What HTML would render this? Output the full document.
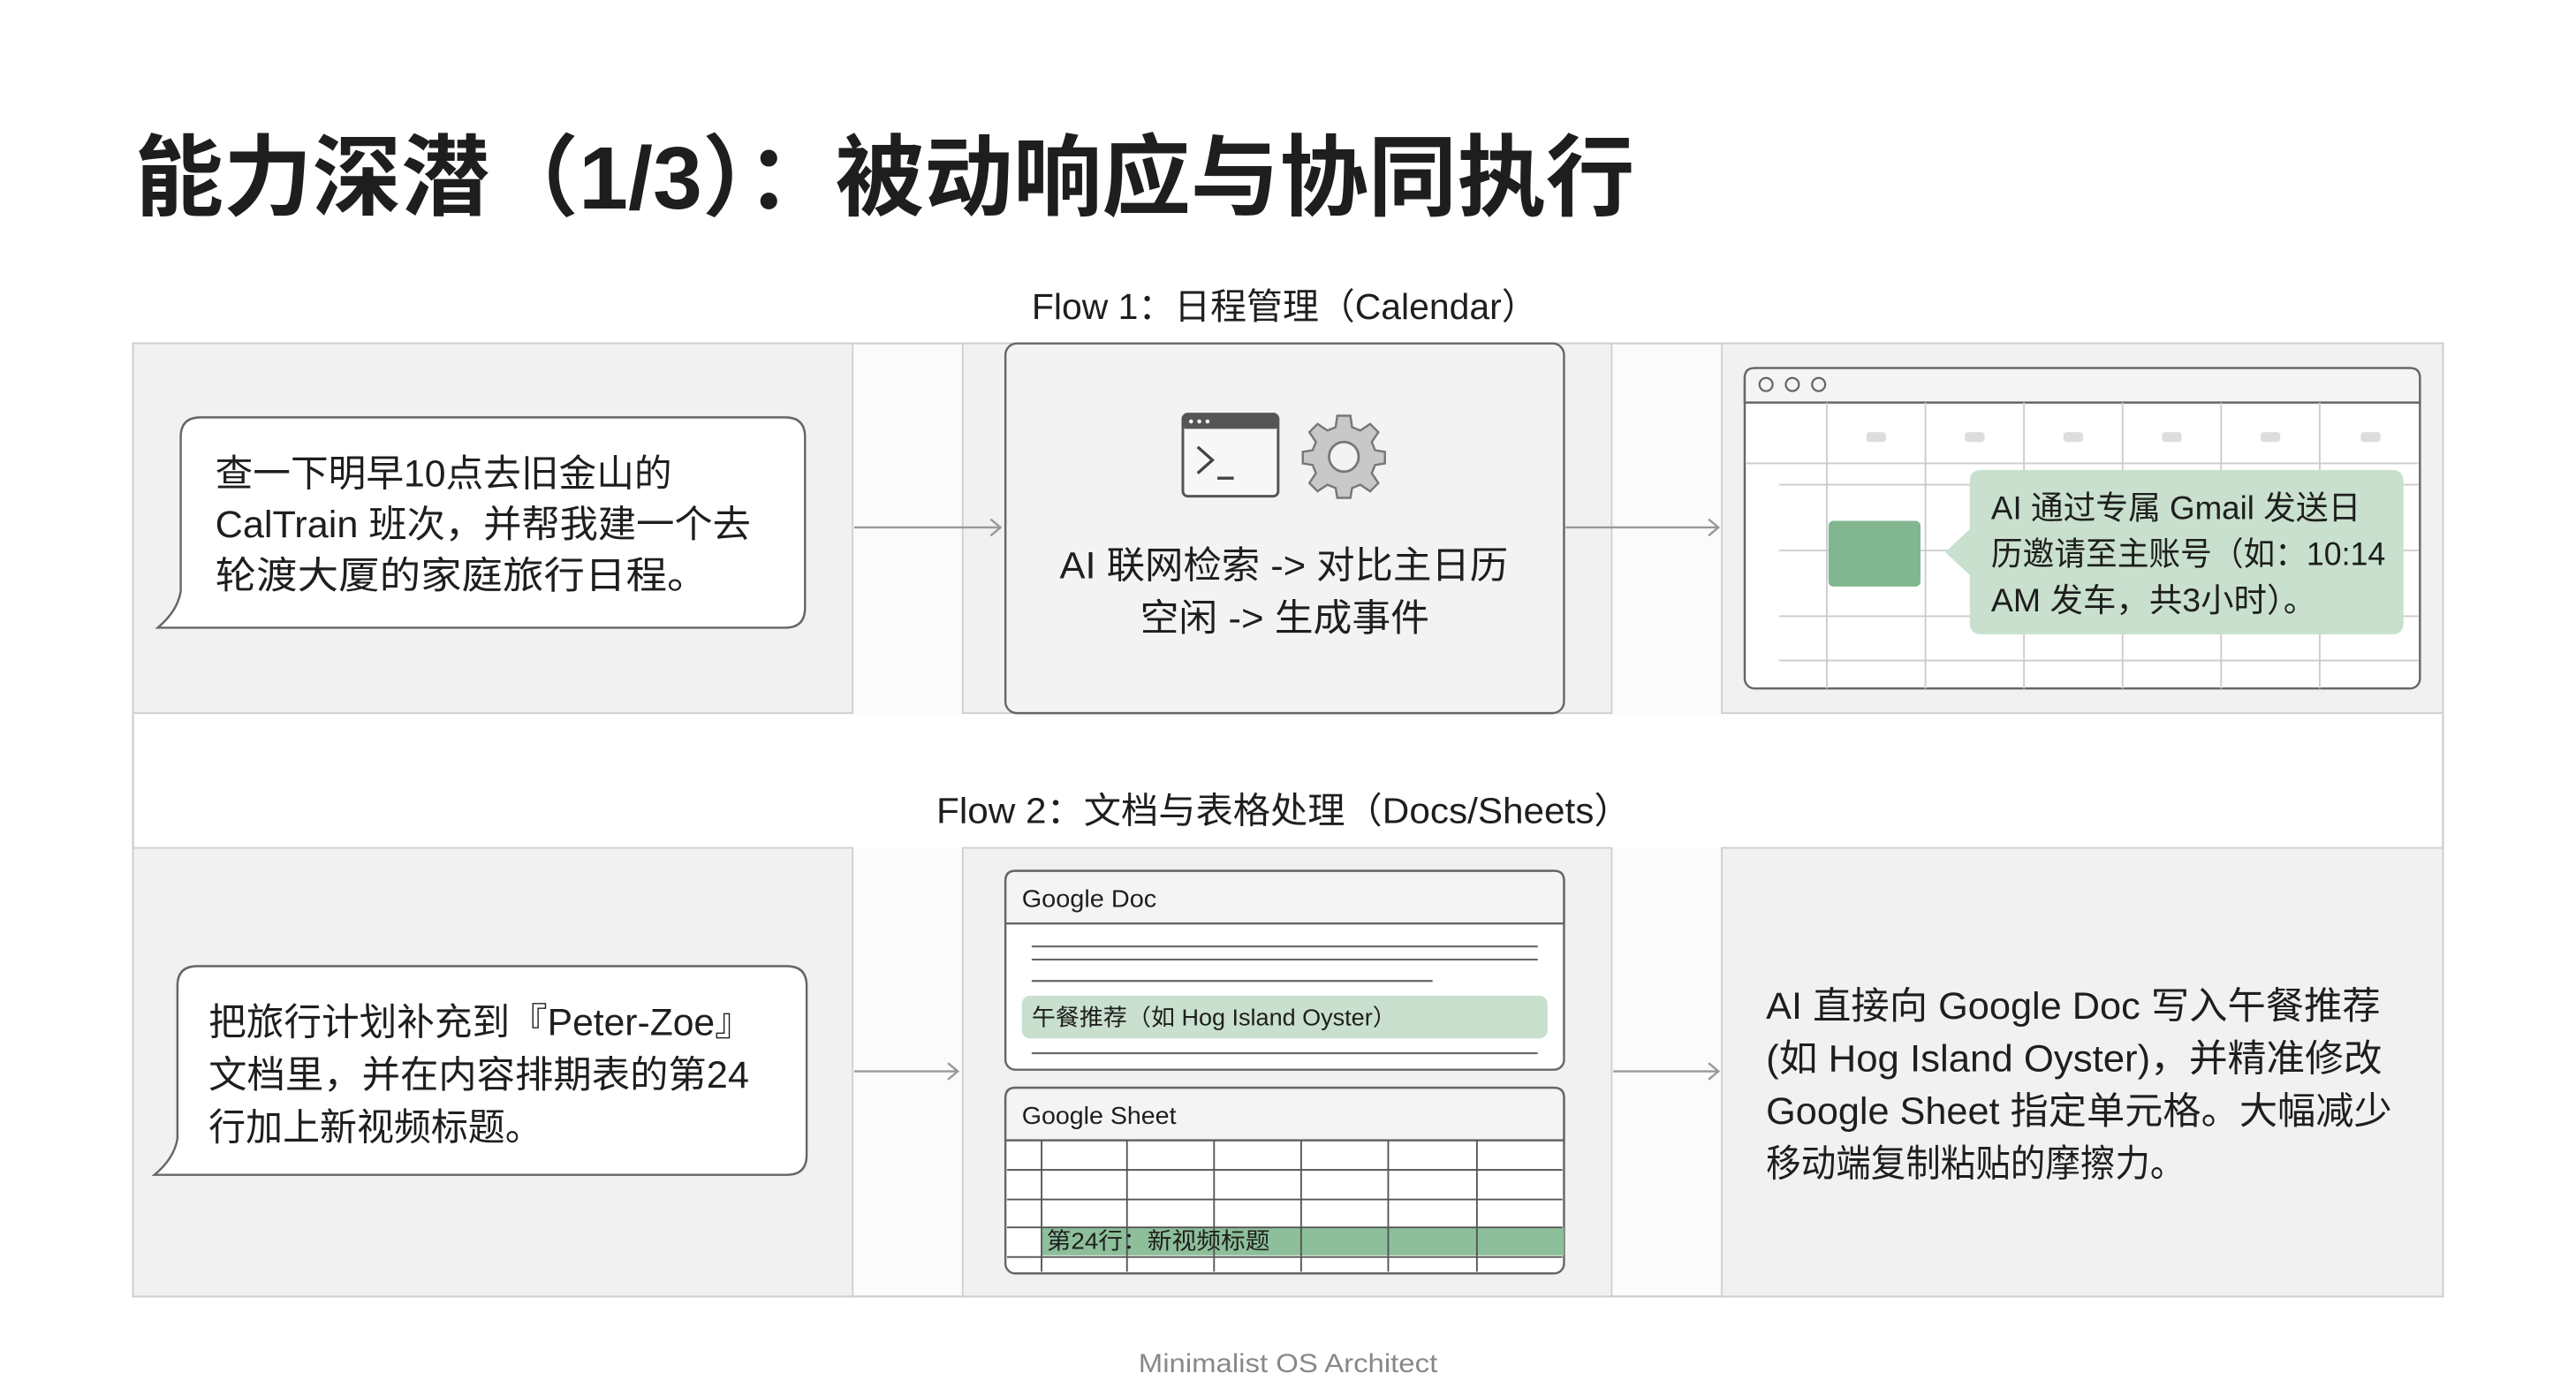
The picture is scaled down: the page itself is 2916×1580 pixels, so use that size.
<!DOCTYPE html>
<html><head><meta charset="utf-8"><style>
html,body{margin:0;padding:0;background:#fff;width:2916px;height:1580px;overflow:hidden}
svg{display:block}
text{font-family:"Liberation Sans","Noto Sans CJK SC",sans-serif;fill:#1e1e1e}
</style></head><body>
<svg width="2916" height="1580" viewBox="0 0 1568 849.6" preserveAspectRatio="none" xmlns="http://www.w3.org/2000/svg">
<rect width="1568" height="850" fill="#fff"/>
<text x="82" y="127" font-size="54" font-weight="bold" textLength="913" lengthAdjust="spacingAndGlyphs" fill="#2a2a2a">能力深潜（1/3）：被动响应与协同执行</text>

<text x="628" y="194" font-size="22" textLength="308" lengthAdjust="spacingAndGlyphs">Flow 1：日程管理（Calendar）</text>

<!-- outer frame -->
<rect x="81" y="209" width="1406" height="580" fill="#fbfbfb" stroke="#cfcfcf" stroke-width="1.2"/>
<rect x="82" y="435" width="1404" height="81" fill="#fff"/>
<text x="570" y="501" font-size="22" textLength="423" lengthAdjust="spacingAndGlyphs">Flow 2：文档与表格处理（Docs/Sheets）</text>
<!-- row1 panels -->
<rect x="81" y="209" width="438" height="225" fill="#f1f1f1" stroke="#d0d0d0"/>
<rect x="586" y="209" width="395" height="225" fill="#f1f1f1" stroke="#d0d0d0"/>
<rect x="1048" y="209" width="439" height="225" fill="#f1f1f1" stroke="#d0d0d0"/>
<!-- row2 panels -->
<rect x="81" y="516" width="438" height="273" fill="#f1f1f1" stroke="#d0d0d0"/>
<rect x="586" y="516" width="395" height="273" fill="#f1f1f1" stroke="#d0d0d0"/>
<rect x="1048" y="516" width="439" height="273" fill="#f1f1f1" stroke="#d0d0d0"/>

<!-- bubble 1 -->
<path d="M122,254 H478 Q490,254 490,266 V370 Q490,382 478,382 H120 L96,382 Q108,372 110,360 V266 Q110,254 122,254 Z" fill="#fff" stroke="#666" stroke-width="1.3"/>
<text font-size="23"><tspan x="131" y="296" textLength="278" lengthAdjust="spacingAndGlyphs">查一下明早10点去旧金山的</tspan><tspan x="131" y="327" textLength="326" lengthAdjust="spacingAndGlyphs">CalTrain 班次，并帮我建一个去</tspan><tspan x="131" y="358" textLength="300" lengthAdjust="spacingAndGlyphs">轮渡大厦的家庭旅行日程。</tspan></text>

<!-- arrows -->
<g stroke="#999" stroke-width="1.3" fill="none">
<path d="M520,321 H609 M603,316 L609,321 L603,326"/>
<path d="M953,321 H1046 M1040,316 L1046,321 L1040,326"/>
<path d="M520,652 H583 M577,647 L583,652 L577,657"/>
<path d="M982,652 H1046 M1040,647 L1046,652 L1040,657"/>
</g>

<!-- middle box 1 -->
<rect x="612" y="209" width="340" height="225" rx="7" fill="#f3f3f3" stroke="#666" stroke-width="1.3"/>
<rect x="720" y="252" width="58" height="50" rx="3" fill="#f7f7f7" stroke="#555" stroke-width="1.6"/>
<rect x="720" y="252" width="58" height="9" rx="2" fill="#555"/>
<circle cx="725" cy="256.5" r="1.2" fill="#fff"/><circle cx="730" cy="256.5" r="1.2" fill="#fff"/><circle cx="735" cy="256.5" r="1.2" fill="#fff"/>
<path d="M729,272 L738,280 L729,288 M741,291 H751" stroke="#444" stroke-width="1.8" fill="none"/>
<g transform="translate(818,278)">
<path d="M-4,-25 H4 L5,-18 L10,-16 L16,-20 L21,-15 L17,-9 L19,-4 L25,-3 V4 L19,5 L17,10 L21,16 L16,21 L10,17 L5,19 L4,25 H-4 L-5,19 L-10,17 L-16,21 L-21,16 L-17,10 L-19,5 L-25,4 V-3 L-19,-4 L-17,-9 L-21,-15 L-16,-20 L-10,-16 L-5,-18 Z" fill="#c8c8c8" stroke="#777" stroke-width="1.3"/>
<circle r="9" fill="#f3f3f3" stroke="#777" stroke-width="1.5"/>
</g>
<text font-size="23"><tspan x="645" y="352" textLength="273" lengthAdjust="spacingAndGlyphs">AI 联网检索 -&gt; 对比主日历</tspan><tspan x="694" y="384" textLength="176" lengthAdjust="spacingAndGlyphs">空闲 -&gt; 生成事件</tspan></text>

<!-- calendar window -->
<rect x="1062" y="224" width="411" height="195" rx="6" fill="#fff" stroke="#666" stroke-width="1.3"/>
<path d="M1068,224 H1467 Q1473,224 1473,230 V245 H1062 V230 Q1062,224 1068,224 Z" fill="#f4f4f4" stroke="#666" stroke-width="1.3"/>
<g fill="none" stroke="#666" stroke-width="1.2"><circle cx="1075" cy="234" r="4"/><circle cx="1091" cy="234" r="4"/><circle cx="1107" cy="234" r="4"/></g>
<g stroke="#ccc" stroke-width="1">
<path d="M1112,245 V419 M1172,245 V419 M1232,245 V419 M1292,245 V419 M1352,245 V419 M1412,245 V419"/>
<path d="M1063,282 H1472"/>
<path d="M1083,295 H1472 M1083,335 H1472 M1083,375 H1472 M1083,402 H1472"/>
</g>
<g fill="#ddd"><rect x="1136" y="263" width="12" height="6" rx="2"/><rect x="1196" y="263" width="12" height="6" rx="2"/><rect x="1256" y="263" width="12" height="6" rx="2"/><rect x="1316" y="263" width="12" height="6" rx="2"/><rect x="1376" y="263" width="12" height="6" rx="2"/><rect x="1437" y="263" width="12" height="6" rx="2"/></g>
<rect x="1113" y="317" width="56" height="40" rx="3" fill="#82b690"/>
<path d="M1206,286 H1456 Q1463,286 1463,293 V379 Q1463,386 1456,386 H1206 Q1199,386 1199,379 V350 L1184,336 L1199,322 V293 Q1199,286 1206,286 Z" fill="#c8e0cd"/>
<text font-size="20"><tspan x="1212" y="316" textLength="225" lengthAdjust="spacingAndGlyphs">AI 通过专属 Gmail 发送日</tspan><tspan x="1212" y="344" textLength="240" lengthAdjust="spacingAndGlyphs">历邀请至主账号（如：10:14</tspan><tspan x="1212" y="372" textLength="198" lengthAdjust="spacingAndGlyphs">AM 发车，共3小时）。</tspan></text>

<!-- bubble 2 -->
<path d="M120,588 H479 Q491,588 491,600 V703 Q491,715 479,715 H118 L94,715 Q106,705 108,693 V600 Q108,588 120,588 Z" fill="#fff" stroke="#666" stroke-width="1.3"/>
<text font-size="23"><tspan x="127" y="630" textLength="331" lengthAdjust="spacingAndGlyphs">把旅行计划补充到『Peter-Zoe』</tspan><tspan x="127" y="662" textLength="329" lengthAdjust="spacingAndGlyphs">文档里，并在内容排期表的第24</tspan><tspan x="127" y="694" textLength="203" lengthAdjust="spacingAndGlyphs">行加上新视频标题。</tspan></text>

<!-- doc card -->
<rect x="612" y="530" width="340" height="121" rx="6" fill="#fff" stroke="#666" stroke-width="1.3"/>
<path d="M618,530 H946 Q952,530 952,536 V562 H612 V536 Q612,530 618,530 Z" fill="#f4f4f4" stroke="#666" stroke-width="1.3"/>
<text x="622" y="552" font-size="15" textLength="82" lengthAdjust="spacingAndGlyphs">Google Doc</text>
<g stroke="#666" stroke-width="1.2"><path d="M628,576 H936 M628,584 H936 M628,597 H872 M628,641 H936"/></g>
<rect x="622" y="606" width="320" height="26" rx="5" fill="#c8e0cd"/>
<text x="628" y="624" font-size="14" textLength="222" lengthAdjust="spacingAndGlyphs">午餐推荐（如 Hog Island Oyster）</text>

<!-- sheet card -->
<rect x="612" y="662" width="340" height="113" rx="6" fill="#fff" stroke="#666" stroke-width="1.3"/>
<path d="M618,662 H946 Q952,662 952,668 V694 H612 V668 Q612,662 618,662 Z" fill="#f4f4f4" stroke="#666" stroke-width="1.3"/>
<text x="622" y="684" font-size="15" textLength="94" lengthAdjust="spacingAndGlyphs">Google Sheet</text>
<rect x="634" y="747" width="318" height="17" fill="#8dbf9a"/>
<g stroke="#555" stroke-width="1">
<path d="M613,712 H951 M613,730 H951 M613,747 H951 M613,765 H951"/>
<path d="M634,694 V774 M686,694 V774 M739,694 V774 M792,694 V774 M845,694 V774 M899,694 V774"/>
</g>
<text x="637" y="760" font-size="14" textLength="136" lengthAdjust="spacingAndGlyphs">第24行：新视频标题</text>

<!-- panel3 row2 -->
<text font-size="23"><tspan x="1075" y="620" textLength="374" lengthAdjust="spacingAndGlyphs">AI 直接向 Google Doc 写入午餐推荐</tspan><tspan x="1075" y="652" textLength="375" lengthAdjust="spacingAndGlyphs">(如 Hog Island Oyster)，并精准修改</tspan><tspan x="1075" y="684" textLength="381" lengthAdjust="spacingAndGlyphs">Google Sheet 指定单元格。大幅减少</tspan><tspan x="1075" y="716" textLength="255" lengthAdjust="spacingAndGlyphs">移动端复制粘贴的摩擦力。</tspan></text>

<text x="693" y="835" font-size="16" textLength="182" lengthAdjust="spacingAndGlyphs" style="fill:#888">Minimalist OS Architect</text>
</svg>
</body></html>
